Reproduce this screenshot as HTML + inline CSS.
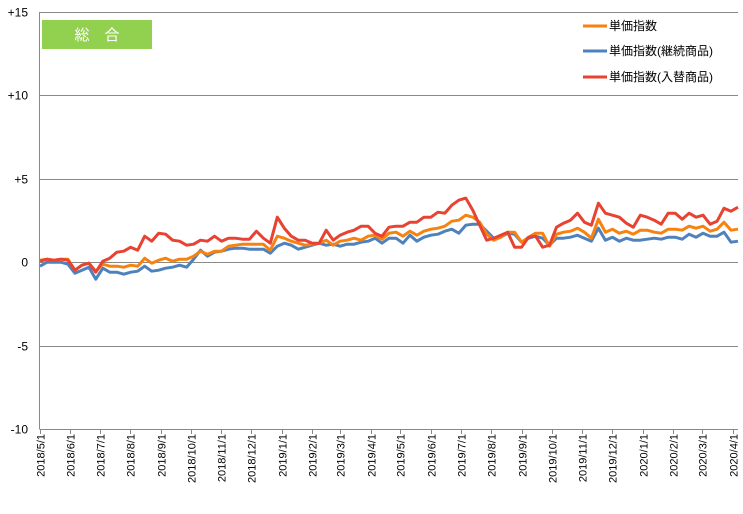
<!DOCTYPE html>
<html><head><meta charset="utf-8"><style>
body{margin:0;background:#fff;}
svg text{font-family:"Liberation Sans","Noto Sans CJK JP",sans-serif;}
</style></head><body>
<svg width="743" height="509" xmlns="http://www.w3.org/2000/svg">
<g id="grid"></g>
<g id="yl"></g>
<g id="xl"></g>
<g id="series"></g>
<rect x="42" y="20" width="110" height="29" fill="#92d050"/>
<text x="97" y="40" font-size="15" fill="#fff" text-anchor="middle">総　合</text>
<g>
<line x1="583" y1="26" x2="607" y2="26" stroke="#f7820f" stroke-width="3"/>
<text x="609" y="30" font-size="12">単価指数</text>
<line x1="583" y1="51" x2="607" y2="51" stroke="#4f81bd" stroke-width="3"/>
<text x="609" y="55" font-size="12">単価指数(継続商品)</text>
<line x1="583" y1="77" x2="607" y2="77" stroke="#e84332" stroke-width="3"/>
<text x="609" y="81" font-size="12">単価指数(入替商品)</text>
</g>
</svg>
<script>
const yTicks=[15,10,5,0,-5,-10];
const yTickLabels=["+15","+10","+5","0","-5","-10"];
const monthLabels=["2018/5/1","2018/6/1","2018/7/1","2018/8/1","2018/9/1","2018/10/1","2018/11/1","2018/12/1","2019/1/1","2019/2/1","2019/3/1","2019/4/1","2019/5/1","2019/6/1","2019/7/1","2019/8/1","2019/9/1","2019/10/1","2019/11/1","2019/12/1","2020/1/1","2020/2/1","2020/3/1","2020/4/1"];
const unitIndex=[0.12,0.18,0.12,0.18,0.18,-0.48,-0.18,-0.06,-0.54,-0.12,-0.24,-0.24,-0.3,-0.18,-0.24,0.24,-0.06,0.12,0.24,0.06,0.18,0.18,0.36,0.66,0.48,0.66,0.66,0.96,1.02,1.08,1.08,1.08,1.08,0.72,1.56,1.44,1.26,1.14,1.02,1.08,1.14,1.32,1.02,1.26,1.32,1.44,1.32,1.56,1.62,1.38,1.74,1.8,1.56,1.86,1.62,1.86,1.98,2.04,2.16,2.46,2.52,2.82,2.7,2.4,1.68,1.32,1.5,1.8,1.8,1.2,1.5,1.74,1.74,0.96,1.68,1.8,1.86,2.04,1.8,1.44,2.58,1.8,1.98,1.74,1.86,1.68,1.92,1.92,1.8,1.74,1.98,1.98,1.92,2.16,2.04,2.16,1.86,1.98,2.4,1.92,1.98];
const continuingIndex=[-0.24,0,0,0,-0.12,-0.66,-0.48,-0.3,-1.02,-0.36,-0.6,-0.6,-0.72,-0.6,-0.54,-0.24,-0.54,-0.48,-0.36,-0.3,-0.18,-0.3,0.18,0.72,0.36,0.6,0.66,0.78,0.84,0.84,0.78,0.78,0.78,0.54,0.96,1.14,1.02,0.78,0.9,1.02,1.14,1.02,1.08,0.96,1.08,1.08,1.2,1.26,1.44,1.14,1.44,1.44,1.14,1.62,1.26,1.5,1.62,1.68,1.86,1.98,1.74,2.22,2.28,2.28,1.86,1.44,1.5,1.74,1.68,1.2,1.44,1.56,1.44,1.02,1.44,1.44,1.5,1.62,1.44,1.26,2.04,1.32,1.5,1.26,1.44,1.32,1.32,1.38,1.44,1.38,1.5,1.5,1.38,1.68,1.5,1.74,1.56,1.56,1.8,1.2,1.26];
const replacedIndex=[0.06,0.18,0.12,0.18,0.12,-0.48,-0.18,-0.06,-0.6,0.06,0.24,0.6,0.66,0.9,0.72,1.56,1.26,1.74,1.68,1.32,1.26,1.02,1.08,1.32,1.26,1.56,1.26,1.44,1.44,1.38,1.38,1.86,1.44,1.14,2.7,2.04,1.56,1.32,1.32,1.14,1.14,1.92,1.32,1.62,1.8,1.92,2.16,2.16,1.74,1.56,2.1,2.16,2.16,2.4,2.4,2.7,2.7,3.0,2.94,3.42,3.72,3.84,3.12,2.22,1.32,1.44,1.62,1.8,0.9,0.9,1.5,1.56,0.9,1.02,2.1,2.34,2.52,2.94,2.4,2.22,3.54,2.94,2.82,2.7,2.34,2.1,2.82,2.7,2.52,2.28,2.94,2.94,2.58,2.94,2.7,2.82,2.28,2.46,3.24,3.06,3.3];

const NS="http://www.w3.org/2000/svg";
const L=39.5,R=738,T=12,B=429;
function yScale(v){return T+(15-v)/25*(B-T);}
function xIdx(i,n){return 40+i*(R-40)/(n-1);}
const d0=Date.UTC(2018,4,1);
function xDate(s){const p=s.split("/").map(Number);const d=(Date.UTC(p[0],p[1]-1,p[2])-d0)/86400000;return L+d*0.989;}
function mk(tag,attrs,parent){const e=document.createElementNS(NS,tag);for(const k in attrs)e.setAttribute(k,attrs[k]);parent.appendChild(e);return e;}
const grid=document.getElementById("grid"),yl=document.getElementById("yl"),xl=document.getElementById("xl"),ser=document.getElementById("series");
yTicks.forEach((v,i)=>{
  const y=Math.round(yScale(v))+0.5;
  const g=mk("line",{x1:L,x2:R,y1:y,y2:y,stroke:"#898989","stroke-width":1},grid);
  
  
  const t=mk("text",{x:28,y:y+4,"font-size":12,"text-anchor":"end",fill:"#000"},yl);
  t.textContent=yTickLabels[i];
  
  
});
const ax=mk("line",{x1:L,x2:L,y1:T,y2:B,stroke:"#898989","stroke-width":1},grid);


monthLabels.forEach(s=>{
  const x=Math.round(xDate(s))+0.5;
  const tk=mk("line",{x1:x,x2:x,y1:B,y2:B+5,stroke:"#898989","stroke-width":1},grid);
  
  
  const t=mk("text",{x:0,y:0,"font-size":11,"text-anchor":"end",transform:"translate("+(x+4)+","+(B+5)+") rotate(-90)"},xl);
  t.textContent=s;
  
  
});
function drawLine(arr,color,name){
  const pts=arr.map((v,i)=>xIdx(i,arr.length).toFixed(1)+","+yScale(v).toFixed(1)).join(" ");
  const p=mk("polyline",{points:pts,fill:"none",stroke:color,"stroke-width":3,"stroke-linejoin":"round"},ser);
  
  
}
drawLine(continuingIndex,"#4f81bd","line-continuing");
drawLine(unitIndex,"#f7820f","line-unit");
drawLine(replacedIndex,"#e84332","line-replaced");
</script>
</body></html>
